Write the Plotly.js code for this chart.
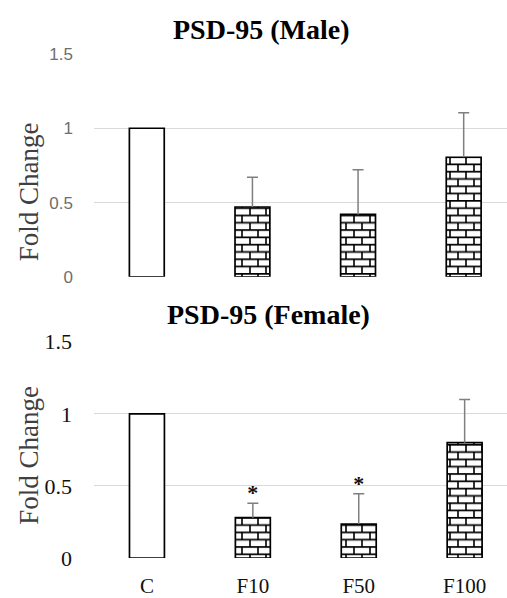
<!DOCTYPE html>
<html>
<head>
<meta charset="utf-8">
<script src="https://cdn.plot.ly/plotly-3.0.1.min.js"></script>
<style>html,body{margin:0;padding:0;background:#fff;}#chart{width:507px;height:598px;}</style>
</head>
<body>
<div id="chart"></div>
<script>
// ---- data ----
const categories = ["C", "F10", "F50", "F100"];
const maleMean = [1.0, 0.47, 0.42, 0.805];
const maleErr = [0, 0.20, 0.30, 0.30];
const femaleMean = [1.0, 0.28, 0.235, 0.80];
const femaleErr = [0, 0.10, 0.21, 0.30];
const femaleStarY = [null, 0.44, 0.50, null];
const starText = ["", "*", "*", ""];
const patternShapes = ["", "+", "+", "+"];
const yTickVals = [0, 0.5, 1, 1.5];
const yTickText = ["0", "0.5", "1", "1.5"];

const errArr = e => e.map(v => (v === 0 ? NaN : v));
const zeroArr = e => e.map(v => (v === 0 ? NaN : 0));

function barTrace(y, err, xa, ya) {
  return {
    type: "bar", x: categories, y: y, xaxis: xa, yaxis: ya,
    width: 0.33,
    marker: {
      color: "#ffffff",
      line: { color: "#000000", width: 1.7 },
      pattern: { shape: patternShapes, fgcolor: "#000000", bgcolor: "#ffffff", size: 8, solidity: 0.2 }
    },
    error_y: {
      type: "data", symmetric: false, array: errArr(err), arrayminus: zeroArr(err),
      color: "#7f7f7f", thickness: 1.5, width: 5.5
    },
    hoverinfo: "skip", showlegend: false
  };
}

const traces = [
  barTrace(maleMean, maleErr, "x", "y"),
  barTrace(femaleMean, femaleErr, "x2", "y2"),
  {
    type: "scatter", mode: "text", x: categories, y: femaleStarY, text: starText,
    xaxis: "x2", yaxis: "y2", textposition: "middle center",
    textfont: { family: "Liberation Serif", size: 22, color: "#111111", weight: "bold" },
    hoverinfo: "skip", showlegend: false
  }
];

const W = 507, L = 94;
const px = p => (p - L) / (W - L);
const serif = "Liberation Serif, Times New Roman, serif";

const yBase = {
  range: [0, 1.5], tickvals: yTickVals, ticktext: yTickText,
  showgrid: true, gridcolor: "#d9d9d9", gridwidth: 1,
  zeroline: false, showline: false, ticks: "", fixedrange: true
};

const layout = {
  width: 507, height: 598,
  margin: { l: 94, r: 0, t: 53.5, b: 39.7, pad: 0 },
  paper_bgcolor: "#ffffff", plot_bgcolor: "#ffffff",
  bargap: 0.67,
  xaxis: { anchor: "y", range: [-0.5, 3.41], showticklabels: false, showgrid: false, zeroline: false, showline: false, ticks: "" },
  yaxis: Object.assign({}, yBase, {
    domain: [0.5579, 1], anchor: "x", ticklabelstandoff: 20,
    tickfont: { family: "Liberation Sans, Arial, sans-serif", size: 17, color: "#6e6e6e" }
  }),
  xaxis2: {
    anchor: "y2", range: [-0.5, 3.40], showgrid: false, zeroline: false, showline: false, ticks: "",
    ticklabelstandoff: 13,
    tickfont: { family: serif, size: 21, color: "#111111" }
  },
  yaxis2: Object.assign({}, yBase, {
    domain: [0, 0.4291], anchor: "x2", ticklabelstandoff: 21,
    tickfont: { family: serif, size: 22, color: "#111111" }
  }),
  annotations: [
    { text: "<b>PSD-95 (Male)</b>", xref: "paper", yref: "paper", x: px(261), y: 1, yshift: 25,
      xanchor: "center", yanchor: "middle", showarrow: false,
      font: { family: serif, size: 28, color: "#000000" } },
    { text: "<b>PSD-95 (Female)</b>", xref: "paper", yref: "paper", x: px(268), y: 0.4291, yshift: 27,
      xanchor: "center", yanchor: "middle", showarrow: false,
      font: { family: serif, size: 28, color: "#000000" } },
    { text: "Fold Change", textangle: -90, xref: "paper", yref: "paper", x: px(29), y: 1 - (192 - 53.5) / 504.8,
      xanchor: "center", yanchor: "middle", showarrow: false,
      font: { family: serif, size: 27, color: "#404040" } },
    { text: "Fold Change", textangle: -90, xref: "paper", yref: "paper", x: px(29), y: 1 - (456 - 53.5) / 504.8,
      xanchor: "center", yanchor: "middle", showarrow: false,
      font: { family: serif, size: 27, color: "#404040" } }
  ]
};

Plotly.newPlot("chart", traces, layout, { staticPlot: true, displayModeBar: false }).then(function () {
  const NS = "http://www.w3.org/2000/svg";
  // turn the library's "+" fill pattern into a brick pattern
  document.querySelectorAll("#chart pattern").forEach(function (p) {
    p.setAttribute("width", "16");
    p.setAttribute("height", "14.6");
    while (p.firstChild) p.removeChild(p.firstChild);
    const r = document.createElementNS(NS, "rect");
    r.setAttribute("width", "16"); r.setAttribute("height", "14.6"); r.setAttribute("fill", "#ffffff");
    p.appendChild(r);
    const path = document.createElementNS(NS, "path");
    path.setAttribute("d", "M0,0.8H16M0,8.1H16M4,0V7.3M12,7.3V14.6");
    path.setAttribute("stroke", "#000000");
    path.setAttribute("stroke-width", "1.6");
    path.setAttribute("fill", "none");
    p.appendChild(path);
  });
  // plus-only error bars: drop the lower cap that sits on the bar top
  document.querySelectorAll("#chart g.errorbar path.yerror").forEach(function (e) {
    const d = e.getAttribute("d");
    if (d) e.setAttribute("d", d.replace(/m-[\d.]+,0h[\d.]+\s*$/, ""));
  });
});
</script>
</body>
</html>
